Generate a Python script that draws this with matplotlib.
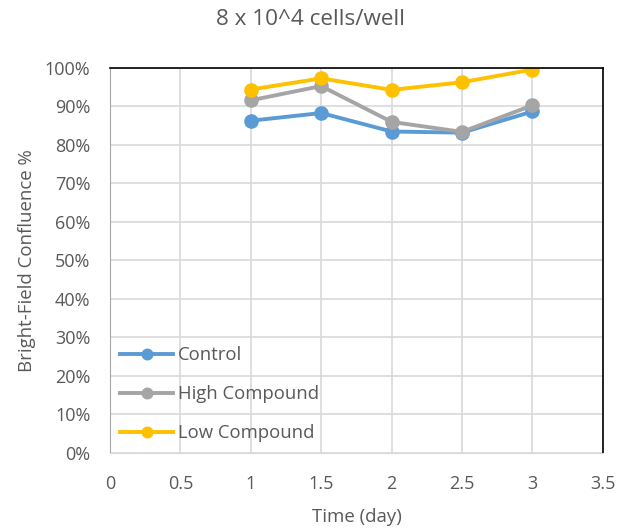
import matplotlib
matplotlib.use("Agg")
import matplotlib.pyplot as plt
from matplotlib.ticker import PercentFormatter

days = [1, 1.5, 2, 2.5, 3]
control = [86.3, 88.3, 83.5, 83.2, 88.7]
high = [91.6, 95.3, 86.0, 83.4, 90.3]
low = [94.4, 97.3, 94.3, 96.3, 99.6]

plt.rcParams["font.family"] = ["Open Sans", "DejaVu Sans"]
txt = "#595959"

fig = plt.figure(figsize=(6.28, 5.29), dpi=100)
ax = fig.add_axes([0.175, 0.1437, 0.785, 0.7278])

ax.plot(days, control, "-o", color="#5b9bd5", lw=2.8, ms=9.5, label="Control")
ax.plot(days, high, "-o", color="#a5a5a5", lw=2.8, ms=9.5, label="High Compound")
ax.plot(days, low, "-o", color="#ffc000", lw=2.8, ms=9.5, label="Low Compound")

ax.set_xlim(0, 3.5)
ax.set_ylim(0, 100)
ax.set_xticks([0, 0.5, 1, 1.5, 2, 2.5, 3, 3.5])
ax.set_xticklabels(["0", "0.5", "1", "1.5", "2", "2.5", "3", "3.5"])
ax.set_yticks(range(0, 101, 10))
ax.yaxis.set_major_formatter(PercentFormatter(decimals=0))
ax.grid(True, color="#d9d9d9", lw=1.2)
ax.set_axisbelow(True)
ax.tick_params(length=0, labelsize=13, colors=txt)
ax.tick_params(axis="x", pad=16)
ax.tick_params(axis="y", pad=14)

for s in ["top", "right"]:
    ax.spines[s].set_color("black")
    ax.spines[s].set_linewidth(1.2)
ax.spines["left"].set_color("#a6a6a6")
ax.spines["bottom"].set_color("#d9d9d9")

ax.set_xlabel("Time (day)", fontsize=13.4, color=txt)
ax.set_ylabel("Bright-Field Confluence %", fontsize=13.4, color=txt)
ax.xaxis.set_label_coords(0.5, -0.143)
ax.yaxis.set_label_coords(-0.150, 0.5)
fig.text(0.495, 0.963, "8 x 10^4 cells/well", ha="center", va="center",
         fontsize=16.2, color=txt)

ax.legend(loc="lower left", bbox_to_anchor=(-0.010, -0.011), frameon=False,
          fontsize=13.3, labelcolor=txt, handlelength=2.9, labelspacing=1.14,
          handletextpad=0.27, borderaxespad=0.4, markerscale=0.8)

fig.savefig("out.png", dpi=100)
